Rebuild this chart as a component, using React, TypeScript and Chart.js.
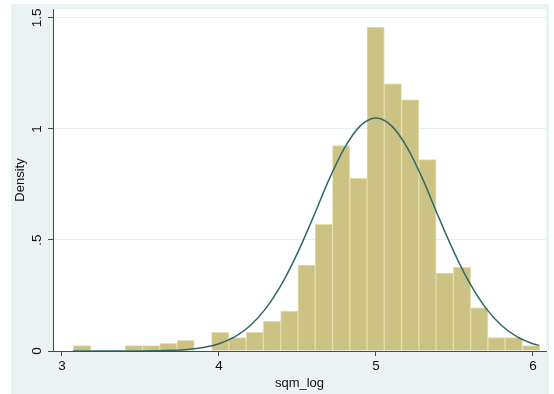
import React, { useEffect, useRef } from "react";
import { Chart, registerables } from "chart.js";

Chart.register(...registerables);

// Histogram bins (density)
const binStart = 3.073;
const binWidth = 0.11;
const densities = [
  0.024, 0, 0, 0.024, 0.024, 0.035, 0.048, 0, 0.084, 0.06, 0.084, 0.134, 0.18,
  0.387, 0.571, 0.925, 0.778, 1.458, 1.203, 1.131, 0.862, 0.351, 0.377, 0.195,
  0.06, 0.06, 0.024,
];

// Normal density overlay
const curveX = [
  3.07, 3.2, 3.3, 3.4, 3.5, 3.6, 3.7, 3.8, 3.9, 4.0, 4.1, 4.2, 4.3, 4.4, 4.5,
  4.6, 4.7, 4.8, 4.9, 5.0, 5.1, 5.2, 5.3, 5.4, 5.5, 5.6, 5.7, 5.8, 5.9, 6.0, 6.04,
];
const curveY = [
  0.0, 0.0, 0.0, 0.0001, 0.0004, 0.0012, 0.003, 0.007, 0.016, 0.033, 0.064,
  0.115, 0.193, 0.302, 0.441, 0.602, 0.771, 0.915, 1.014, 1.05, 1.014, 0.915,
  0.771, 0.602, 0.441, 0.302, 0.193, 0.115, 0.064, 0.033, 0.025,
];

const xTicks = [3, 4, 5, 6];
const yTicks = [0, 0.5, 1, 1.5];
const xLabel = "sqm_log";
const yLabel = "Density";

export default function App() {
  const ref = useRef<HTMLCanvasElement>(null);

  useEffect(() => {
    if (!ref.current) return;
    const family = "'Liberation Sans', Arial, Helvetica, sans-serif";
    const tickFont = { family, size: 13.5 };
    const titleFont = { family, size: 13 };
    const plotBg = {
      id: "plotBg",
      beforeDraw(chart: any) {
        const { ctx, chartArea } = chart;
        ctx.save();
        ctx.fillStyle = "#ffffff";
        ctx.fillRect(chartArea.left, chartArea.top, chartArea.right - chartArea.left, chartArea.bottom - chartArea.top);
        ctx.restore();
      },
    };
    const chart = new Chart(ref.current, {
      type: "bar",
      data: {
        datasets: [
          {
            type: "line",
            data: curveX.map((x, i) => ({ x, y: curveY[i] })),
            borderColor: "#2F6A6A",
            borderWidth: 1.5,
            pointRadius: 0,
            fill: false,
            cubicInterpolationMode: "monotone",
            order: 1,
          } as any,
          {
            type: "bar",
            data: densities.map((d, i) => ({ x: binStart + binWidth * (i + 0.5), y: d })),
            backgroundColor: "#CCC283",
            borderColor: "#E4DDAA",
            borderWidth: 1,
            barPercentage: 1,
            categoryPercentage: 1,
            order: 2,
          } as any,
        ],
      },
      options: {
        responsive: false,
        animation: false,
        devicePixelRatio: 1,
        layout: { padding: { top: 5, right: 3, left: 0, bottom: 0 } },
        plugins: { legend: { display: false }, tooltip: { enabled: false } },
        scales: {
          x: {
            type: "linear",
            min: 2.943,
            max: 6.083,
            offset: false,
            afterBuildTicks: (s: any) => {
              s.ticks = xTicks.map((v) => ({ value: v }));
            },
            afterFit: (s: any) => {
              s.height = 43;
              s.paddingLeft = 0;
              s.paddingRight = 0;
            },
            grid: { drawOnChartArea: false, drawTicks: true, tickLength: 5, tickColor: "#4a4a4a", offset: false },
            border: { display: true, color: "#4a4a4a", width: 1 },
            ticks: { color: "#111", font: tickFont, padding: 2, maxRotation: 0, minRotation: 0, autoSkip: false },
            title: { display: true, text: xLabel, color: "#111", font: titleFont, padding: { top: 0, bottom: 3 } },
          },
          y: {
            type: "linear",
            min: 0,
            max: 1.5405,
            afterBuildTicks: (s: any) => {
              s.ticks = yTicks.map((v) => ({ value: v }));
            },
            afterFit: (s: any) => {
              s.width = 42;
              s.paddingTop = 0;
              s.paddingBottom = 0;
            },
            grid: { color: "#E8EFF1", lineWidth: 1, drawTicks: true, tickLength: 5, tickColor: "#4a4a4a" },
            border: { display: true, color: "#4a4a4a", width: 1 },
            ticks: {
              color: "#111",
              font: tickFont,
              padding: 1,
              minRotation: 90,
              maxRotation: 90,
              crossAlign: "center",
              autoSkip: false,
              callback: (v: any) => String(v).replace(/^0\./, "."),
            },
            title: { display: true, text: yLabel, color: "#111", font: titleFont, padding: { top: 2, bottom: 0 } },
          },
        },
      } as any,
      plugins: [plotBg],
    });
    return () => chart.destroy();
  }, []);

  return (
    <div style={{ position: "fixed", left: 0, top: 0, width: 554, height: 394, background: "#ffffff" }}>
      <div style={{ position: "absolute", left: 11, top: 4, width: 538, height: 390, background: "#EAF2F3" }}>
        <canvas ref={ref} width={538} height={390} style={{ display: "block" }} />
      </div>
    </div>
  );
}
